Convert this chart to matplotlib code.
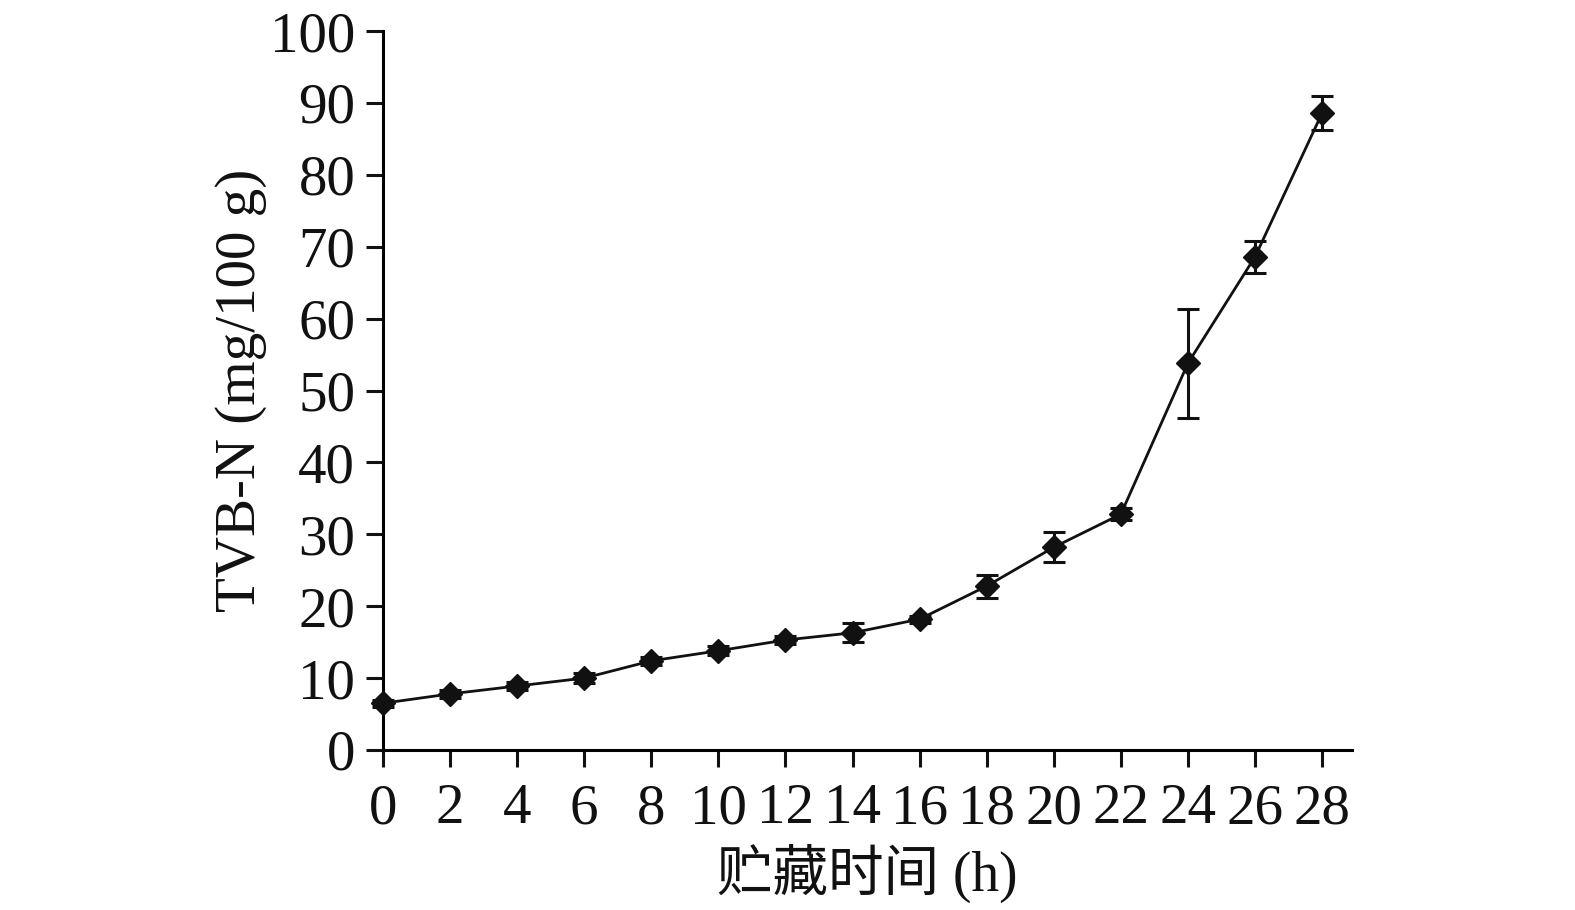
import numpy as np
import matplotlib
matplotlib.use('Agg')
import matplotlib.pyplot as plt

# storage time (h) and TVB-N (mg/100 g)
hours = [0, 2, 4, 6, 8, 10, 12, 14, 16, 18, 20, 22, 24, 26, 28]
tvbn = [6.5, 7.8, 8.9, 10.0, 12.4, 13.8, 15.3, 16.3, 18.2, 22.8, 28.2, 32.8, 53.8, 68.6, 88.6]
err = [0.5, 0.6, 0.6, 0.7, 0.6, 0.6, 0.6, 1.3, 0.5, 1.6, 2.1, 0.8, 7.6, 2.2, 2.4]

xticks = list(range(0, 29, 2))
yticks = list(range(0, 101, 10))

serif = ['Liberation Serif', 'Noto Sans CJK SC', 'DejaVu Serif']
plt.rcParams['font.family'] = serif
plt.rcParams['axes.linewidth'] = 2.2

fig = plt.figure(figsize=(15.75, 9.1), dpi=100)
ax = fig.add_axes([383/1575, 1-750/910, (1352-383)/1575, (750-31)/910])

ax.errorbar(hours, tvbn, yerr=err, fmt='-D', color='#111111', lw=2.0,
            ms=12, elinewidth=2.2, capsize=8, capthick=2.2, clip_on=False, zorder=3)

ax.set_xlim(0, 28.89)
ax.set_ylim(0, 100)
ax.set_xticks(xticks)
ax.set_yticks(yticks)
ax.tick_params(direction='out', length=12, width=2.2, labelsize=41, colors='#111111')
ax.tick_params(axis='x', pad=12)
ax.tick_params(axis='y', pad=8)
for s in ['top', 'right']:
    ax.spines[s].set_visible(False)

ax.set_xlabel('贮藏时间 (h)', fontsize=40, labelpad=6, color='#111111')
ax.set_ylabel('TVB-N (mg/100 g)', fontsize=41, labelpad=2, color='#111111')

plt.savefig('out.png', dpi=100)
